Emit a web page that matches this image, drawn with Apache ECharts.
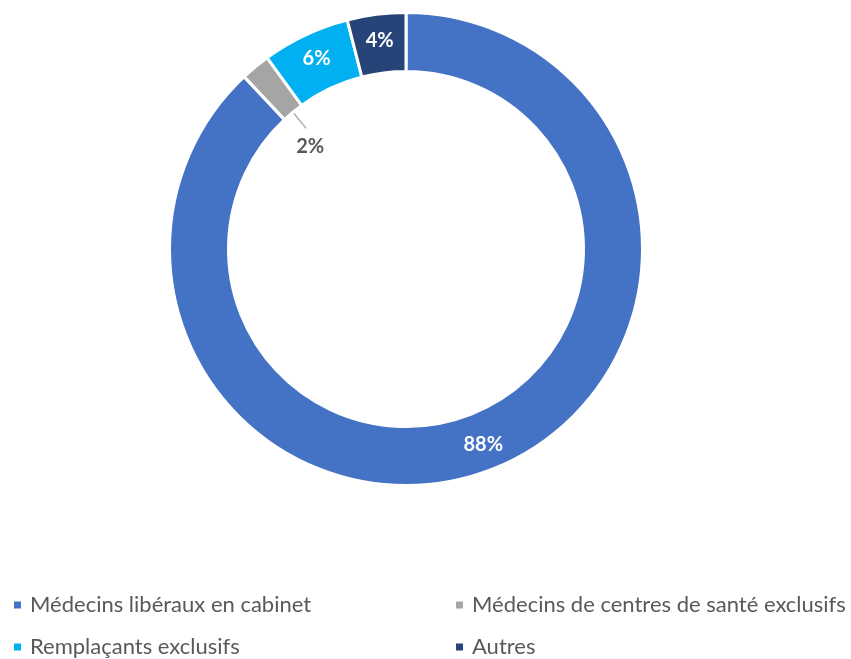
<!DOCTYPE html>
<html>
<head>
<meta charset="utf-8">
<title>Répartition des médecins</title>
<script src="https://cdn.jsdelivr.net/npm/echarts@6/dist/echarts.min.js"></script>
<style>
  html, body { margin: 0; padding: 0; background: #ffffff; }
  #chart { width: 851px; height: 659px; }
</style>
</head>
<body>
<div id="chart"></div>
<script>
// Categories and their shares (%), clockwise from 12 o'clock
const categories = [
  'Médecins libéraux en cabinet',
  'Médecins de centres de santé exclusifs',
  'Remplaçants exclusifs',
  'Autres'
];
const shares = [88, 2, 6, 4];
const colors = ['#4472C4', '#A5A5A5', '#00B0F0', '#264478'];

const FONT = 'Lato, "Open Sans", sans-serif';
const CENTER = [406, 249];
const RADIUS = [177.5, 236.5];
const HOLE_LABEL_INDEX = 1; // thin slice labelled inside the hole

const chart = echarts.init(document.getElementById('chart'), null, { renderer: 'canvas' });

const total = shares.reduce((a, b) => a + b, 0);

// point at a slice's mid angle and a given radius
function midPoint(index, r) {
  const before = shares.slice(0, index).reduce((a, b) => a + b, 0);
  const ang = (before + shares[index] / 2) / total * 2 * Math.PI; // clockwise from 12 o'clock
  return [CENTER[0] + r * Math.sin(ang), CENTER[1] - r * Math.cos(ang)];
}

const pieData = categories.map((name, i) => {
  const item = {
    name: name,
    value: shares[i],
    itemStyle: { color: colors[i] }
  };
  if (i === HOLE_LABEL_INDEX) {
    item.label = { color: '#595959' };
  }
  return item;
});

function legendColumn(names, left) {
  return {
    data: names,
    orient: 'vertical',
    left: left,
    top: 594,
    height: 90,
    padding: 0,
    itemWidth: 9,
    itemHeight: 9,
    itemGap: 20,
    icon: 'rect',
    textStyle: { fontFamily: FONT, fontSize: 22, color: '#595959', padding: [0, 0, 0, 3] },
    selectedMode: false
  };
}

// radial leader line from the thin slice into the hole
const leadStart = midPoint(HOLE_LABEL_INDEX, RADIUS[0] - 1);
const leadEnd = midPoint(HOLE_LABEL_INDEX, RADIUS[0] - 21);

const option = {
  backgroundColor: '#ffffff',
  animation: false,
  color: colors,
  legend: [
    legendColumn([categories[0], categories[2]], 12),
    legendColumn([categories[1], categories[3]], 454)
  ],
  graphic: [
    {
      type: 'line',
      silent: true,
      shape: { x1: leadStart[0], y1: leadStart[1], x2: leadEnd[0], y2: leadEnd[1] },
      style: { stroke: '#A5A5A5', lineWidth: 1.3 }
    }
  ],
  series: [
    {
      type: 'pie',
      center: CENTER,
      radius: RADIUS,
      startAngle: 90,
      clockwise: true,
      avoidLabelOverlap: false,
      itemStyle: { borderColor: '#ffffff', borderWidth: 3 },
      label: {
        show: true,
        position: 'inside',
        formatter: p => p.value + '%',
        fontFamily: FONT,
        fontWeight: 'bold',
        fontSize: 20,
        color: '#ffffff'
      },
      labelLine: { show: false },
      labelLayout: function (params) {
        if (params.dataIndex !== HOLE_LABEL_INDEX) return {};
        const r = params.labelRect;
        return {
          x: r.x + r.width / 2 + 38,
          y: r.y + r.height / 2 + 59,
          align: 'center',
          verticalAlign: 'middle'
        };
      },
      emphasis: { disabled: true },
      data: pieData
    }
  ]
};

chart.setOption(option);
</script>
</body>
</html>
